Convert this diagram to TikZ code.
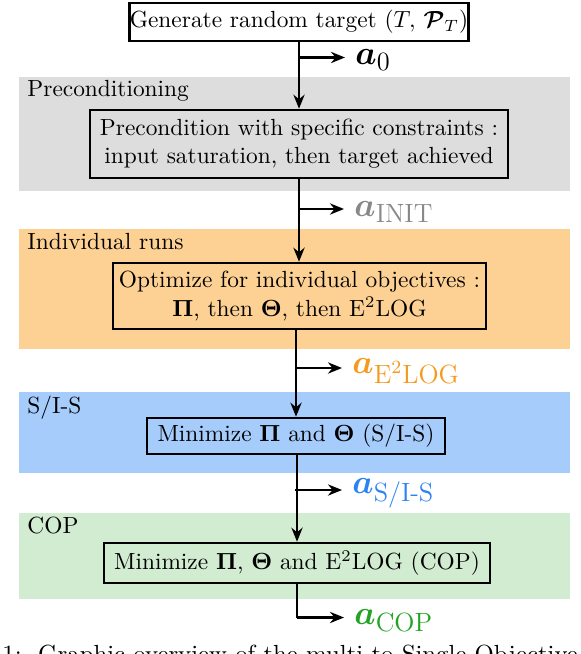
\documentclass[tikz,border=0pt]{standalone}
\usepackage{amsmath}
\usepackage{bm}
\usetikzlibrary{arrows.meta}
\newcommand\pxu{0.428pt}
\newcommand\subsz[1]{\mbox{\fontsize{11.3}{12}\selectfont #1}}
\definecolor{bandgray}{HTML}{DDDDDD}
\definecolor{bandorange}{HTML}{FDD194}
\definecolor{bandblue}{HTML}{A6CCFC}
\definecolor{bandgreen}{HTML}{D2ECD2}
\definecolor{labgray}{HTML}{888888}
\definecolor{laborange}{HTML}{F59A1E}
\definecolor{labblue}{HTML}{2B83F2}
\definecolor{labgreen}{HTML}{23A323}
\tikzset{
  bandlabel/.style={anchor=north west, inner sep=0pt, font=\normalsize},
  stage/.style={draw, line width=1.1pt, inner sep=0pt, align=center, font=\normalsize},
  flow/.style={line width=0.95pt, -{Stealth[length=6pt,width=4.8pt]}},
  plainflow/.style={line width=0.95pt},
  outlabel/.style={anchor=west, inner sep=0pt, font=\Large},
}
\begin{document}
\begin{tikzpicture}[x=\pxu,y=-\pxu]
\useasboundingbox (0,0) rectangle (580,654);
% bands
\fill[bandgray]   (19,77)  rectangle (570,191);
\fill[bandorange] (19,229) rectangle (570,349);
\fill[bandblue]   (19,392) rectangle (570,473);
\fill[bandgreen]  (19,513) rectangle (570,599);
\node[bandlabel] (lpre) at (27,80) {Preconditioning};
\node[bandlabel] (lind) at (27,233) {Individual runs};
\node[bandlabel] (lsis) at (27,396) {S/I-S};
\node[bandlabel] (lcop) at (27,517) {COP};
% stage boxes
\node[stage, minimum width=338*\pxu, minimum height=38*\pxu] (gen) at (299,22) {Generate random target $(T,\,\bm{\mathcal{P}}_T)$};
\node[stage, fill=bandgray, minimum width=418*\pxu, minimum height=68*\pxu] (pre) at (299,144) {Precondition with specific constraints :\\ input saturation, then target achieved};
\node[stage, fill=bandorange, minimum width=373*\pxu, minimum height=66*\pxu] (ind) at (299.5,296) {Optimize for individual objectives :\\ $\mathbf{\Pi}$, then $\mathbf{\Theta}$, then E$^2$LOG};
\node[stage, fill=bandblue, minimum width=298*\pxu, minimum height=36*\pxu] (sis) at (296,436) {Minimize $\mathbf{\Pi}$ and $\mathbf{\Theta}$ (S/I-S)};
\node[stage, fill=bandgreen, minimum width=386*\pxu, minimum height=40*\pxu] (cop) at (297,563) {Minimize $\mathbf{\Pi}$, $\mathbf{\Theta}$ and E$^2$LOG (COP)};
% main flow
\draw[flow] (gen.south -| pre.north) -- (pre.north);
\draw[flow] (pre.south) -- (pre.south |- ind.north);
\draw[flow] (ind.south -| sis.north) -- (sis.north);
\draw[flow] (sis.south -| cop.north) -- (cop.north);
% branches
\coordinate (c0) at (299,57.5);
\coordinate (c1) at (299,209);
\coordinate (c2) at (296,368);
\coordinate (c3) at (295,490);
\coordinate (c4) at (295,617.5);
\draw[plainflow] (cop.south) -- (cop.south |- c4);
\draw[flow] (c0) -- ++(46,0) coordinate (e0);
\draw[flow] (c1) -- ++(45,0) coordinate (e1);
\draw[flow] (c2) -- ++(46,0) coordinate (e2);
\draw[flow] (c3) -- ++(47,0) coordinate (e3);
\draw[flow] (cop.south |- c4) -- ++(47,0) coordinate (e4);
\node[outlabel] (a0) at ([xshift=10*\pxu,yshift=-3*\pxu]e0) {$\bm{a}_{\subsz{0}}$};
\node[outlabel, text=labgray] (ainit) at ([xshift=10*\pxu,yshift=-3*\pxu]e1) {$\bm{a}_{\subsz{INIT}}$};
\node[outlabel, text=laborange] (aelog) at ([xshift=10*\pxu,yshift=-3*\pxu]e2) {$\bm{a}_{\subsz{E$^2$LOG}}$};
\node[outlabel, text=labblue] (asis) at ([xshift=10*\pxu,yshift=-3*\pxu]e3) {$\bm{a}_{\subsz{S/I-S}}$};
\node[outlabel, text=labgreen] (acop) at ([xshift=10*\pxu,yshift=-3*\pxu]e4) {$\bm{a}_{\subsz{COP}}$};
% clipped caption
\begin{scope}
\clip (0,630) rectangle (580,654);
\node[anchor=north west, inner sep=0pt, font=\fontsize{10.6}{12}\selectfont] (cap) at (2,644.5) {1:\ \ Graphic overview of the multi-to-Single Objective Optimization};
\end{scope}
\end{tikzpicture}
\end{document}
